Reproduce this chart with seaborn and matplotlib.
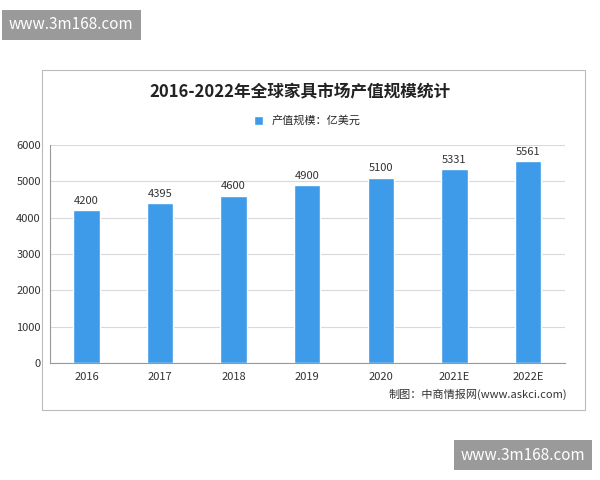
import matplotlib
matplotlib.use("Agg")
import matplotlib.pyplot as plt
import seaborn as sns
import pandas as pd
from matplotlib.patches import Rectangle

years = ["2016", "2017", "2018", "2019", "2020", "2021E", "2022E"]
values = [4200, 4395, 4600, 4900, 5100, 5331, 5561]

sns.set_style("white")
plt.rcParams['font.family'] = ['Noto Sans CJK SC', 'DejaVu Sans']

df = pd.DataFrame({"year": years, "value": values})

fig = plt.figure(figsize=(6, 4.8), dpi=100)
# outer chart frame
fig.patches.append(Rectangle((0.07, 0.145), 0.905, 0.71, transform=fig.transFigure,
                             fill=False, edgecolor="#bbbbbb", linewidth=0.8))
ax = fig.add_axes([0.083, 0.244, 0.858, 0.454])
sns.barplot(data=df, x="year", y="value", color="#3d9be9", width=0.36,
            saturation=1, ax=ax, label="产值规模：亿美元")
for i, v in enumerate(values):
    ax.text(i, v + 120, str(v), ha="center", va="bottom", fontsize=8, color="#333333")

ax.set_ylim(0, 6000)
ax.set_yticks(range(0, 6001, 1000))
ax.set_xlabel("")
ax.set_ylabel("")
ax.tick_params(labelsize=8, colors="#333333", length=3)
ax.yaxis.grid(True, color="#d9d9d9", linewidth=0.8)
ax.set_axisbelow(True)
for s in ["top", "right"]:
    ax.spines[s].set_visible(False)
ax.spines["left"].set_color("#999999")
ax.spines["bottom"].set_color("#999999")
ax.legend(loc="lower center", bbox_to_anchor=(0.5, 1.04), frameon=False,
          fontsize=8, handlelength=0.8, handleheight=0.8)

fig.text(0.5, 0.808, "2016-2022年全球家具市场产值规模统计", ha="center", va="center",
         fontsize=12, fontweight="bold", color="#222222")
fig.text(0.945, 0.178, "制图：中商情报网(www.askci.com)", ha="right", va="center",
         fontsize=8, color="#333333")

# site watermarks
fig.text(0.015, 0.948, "www.3m168.com", ha="left", va="center", fontsize=11, color="white",
         bbox=dict(boxstyle="square,pad=0.45", facecolor="#9a9a9a", edgecolor="none"))
fig.text(0.975, 0.052, "www.3m168.com", ha="right", va="center", fontsize=11, color="white",
         bbox=dict(boxstyle="square,pad=0.45", facecolor="#9a9a9a", edgecolor="none"))

fig.savefig("out.png", dpi=100)
